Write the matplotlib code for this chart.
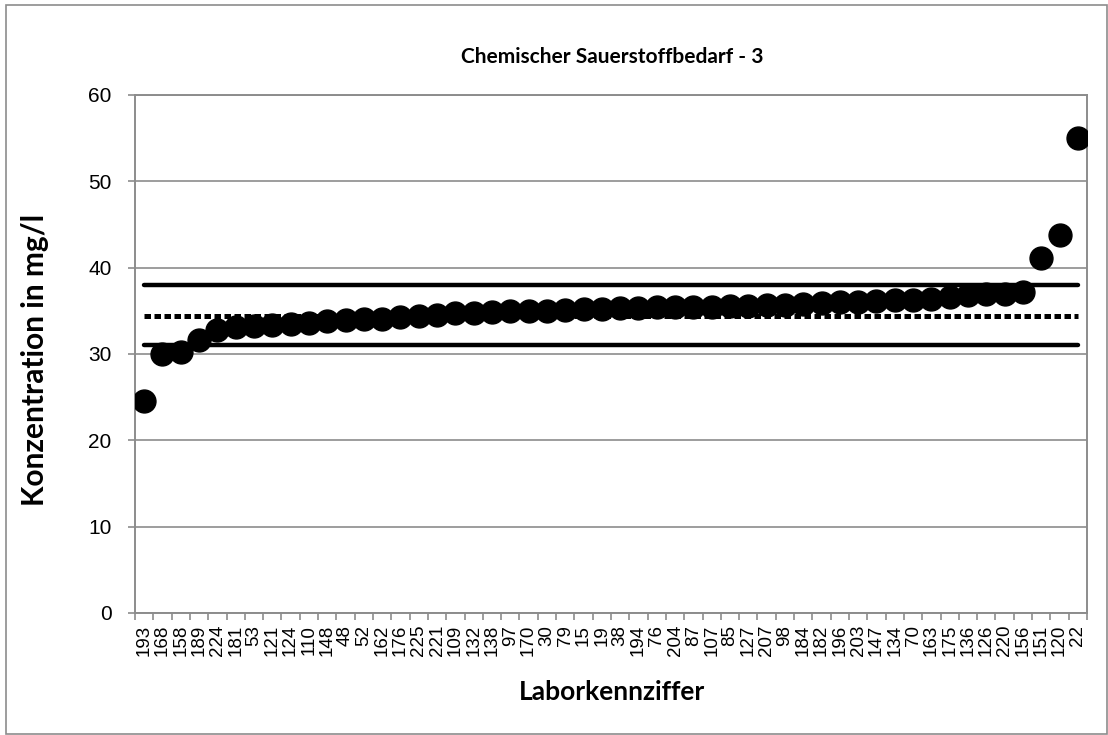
import matplotlib
matplotlib.use("Agg")
import matplotlib.pyplot as plt
from matplotlib.patches import Rectangle

labs = ["193","168","158","189","224","181","53","121","124","110","148","48","52",
        "162","176","225","221","109","132","138","97","170","30","79","15","19",
        "38","194","76","204","87","107","85","127","207","98","184","182","196",
        "203","147","134","70","163","175","136","126","220","156","151","120","22"]
values = [24.5, 30.0, 30.2, 31.6, 32.8, 33.1, 33.3, 33.4, 33.5, 33.6, 33.8, 33.9, 34.0,
          34.1, 34.3, 34.4, 34.5, 34.7, 34.8, 34.9, 35.0, 35.0, 35.0, 35.1, 35.2, 35.2,
          35.3, 35.3, 35.4, 35.4, 35.4, 35.5, 35.6, 35.6, 35.7, 35.7, 35.8, 35.9, 36.0,
          36.0, 36.1, 36.2, 36.3, 36.4, 36.6, 36.8, 36.9, 37.0, 37.2, 41.1, 43.8, 55.0]
upper_limit = 38.0
assigned = 34.4
lower_limit = 31.0
yticks = [0, 10, 20, 30, 40, 50, 60]

W, H = 1108, 735
fig = plt.figure(figsize=(W/100, H/100), dpi=100)
fig.patches.append(Rectangle((6/W, 1/H), (W-7)/W, (H-6)/H, transform=fig.transFigure,
                             fill=False, edgecolor="#8c8c8c", linewidth=1.2))

ax = fig.add_axes([135/W, (H-613)/H, (1087-135)/W, (613-95)/H])
x = list(range(len(labs)))
n = len(labs)

ax.plot([0, n-1], [upper_limit]*2, color="black", lw=3.2, solid_capstyle="round", zorder=2)
ax.plot([0, n-1], [lower_limit]*2, color="black", lw=3.2, solid_capstyle="round", zorder=2)
ax.plot([0, n-1], [assigned]*2, color="black", lw=3.6, linestyle=(0, (1.3, 0.7)), zorder=2)
ax.plot(x, values, linestyle="none", marker="o", markersize=16.5, color="black", zorder=3)

ax.set_xlim(-0.5, n-0.5)
ax.set_ylim(0, 60)
ax.set_yticks(yticks)
ax.set_yticklabels([str(v) for v in yticks], fontsize=15, family="Liberation Sans")
ax.set_xticks([i - 0.5 for i in range(n+1)])
ax.set_xticklabels([])
ax.set_xticks(x, minor=True)
ax.set_xticklabels(labs, minor=True, rotation=90, fontsize=13.5, family="Liberation Sans")
ax.tick_params(axis="x", which="minor", length=0, pad=8.5)
ax.tick_params(axis="x", which="major", length=5, color="#8c8c8c", width=1.2)
ax.tick_params(axis="y", length=5, color="#8c8c8c", width=1.2, pad=12)

ax.grid(axis="y", color="#8c8c8c", lw=1.2, zorder=0)
ax.set_axisbelow(True)
for s in ["left", "bottom", "right", "top"]:
    ax.spines[s].set_color("#8c8c8c")
    ax.spines[s].set_linewidth(1.4)

fig.text(612/W, 1-57/H, "Chemischer Sauerstoffbedarf - 3", ha="center", va="center",
         fontsize=15, fontweight="bold", family="Lato")
fig.text(612/W, 1-692/H, "Laborkennziffer", ha="center", va="center",
         fontsize=19, fontweight="bold", family="Lato")
fig.text(35/W, 1-360/H, "Konzentration in mg/l", ha="center", va="center", rotation=90,
         fontsize=21.5, fontweight="bold", family="Lato")

fig.savefig("out.png", dpi=100)
